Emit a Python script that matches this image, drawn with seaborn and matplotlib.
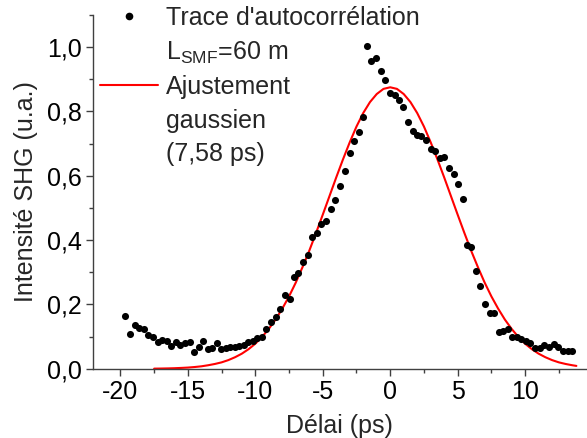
import matplotlib
matplotlib.use("Agg")
import matplotlib.pyplot as plt
import seaborn as sns
import pandas as pd
from matplotlib.ticker import MultipleLocator, FuncFormatter
from matplotlib.lines import Line2D

# autocorrelation trace (delay in ps, normalised SHG intensity)
delay = [-19.64, -19.29, -18.94, -18.62, -18.27, -17.93, -17.58, -17.24, -16.89, -16.57,
         -16.25, -15.90, -15.56, -15.21, -14.87, -14.52, -14.20, -13.88, -13.53, -13.19,
         -12.87, -12.52, -12.20, -11.88, -11.53, -11.21, -10.87, -10.52, -10.20, -9.85,
         -9.51, -9.19, -8.84, -8.50, -8.15, -7.81, -7.46, -7.11, -6.81, -6.47,
         -6.13, -5.80, -5.45, -5.10, -4.74, -4.42, -4.07, -3.72, -3.36, -3.01,
         -2.70, -2.35, -2.05, -1.75, -1.39, -1.04, -0.70, -0.35, 0.00, 0.36,
         0.65, 0.98, 1.33, 1.68, 2.00, 2.29, 2.64, 2.99, 3.33, 3.68,
         4.02, 4.37, 4.71, 5.06, 5.38, 5.67, 6.02, 6.34, 6.69, 7.04,
         7.36, 7.73, 8.04, 8.39, 8.71, 9.06, 9.41, 9.73, 10.07, 10.39,
         10.74, 11.08, 11.43, 11.78, 12.12, 12.47, 12.81, 13.16, 13.50]
intensity = [0.164, 0.108, 0.137, 0.126, 0.125, 0.105, 0.098, 0.083, 0.090, 0.087,
             0.071, 0.084, 0.073, 0.081, 0.084, 0.052, 0.069, 0.085, 0.061, 0.066,
             0.079, 0.060, 0.064, 0.067, 0.069, 0.071, 0.074, 0.084, 0.087, 0.095,
             0.098, 0.123, 0.147, 0.162, 0.185, 0.230, 0.216, 0.285, 0.298, 0.331,
             0.355, 0.411, 0.421, 0.449, 0.458, 0.497, 0.526, 0.569, 0.615, 0.672,
             0.707, 0.736, 0.784, 1.003, 0.956, 0.967, 0.925, 0.899, 0.857, 0.850,
             0.835, 0.814, 0.766, 0.740, 0.728, 0.723, 0.711, 0.684, 0.678, 0.655,
             0.658, 0.625, 0.606, 0.575, 0.528, 0.385, 0.379, 0.305, 0.256, 0.201,
             0.173, 0.173, 0.115, 0.118, 0.123, 0.100, 0.098, 0.092, 0.087, 0.081,
             0.064, 0.064, 0.073, 0.069, 0.077, 0.069, 0.054, 0.056, 0.056]

# gaussian fit curve
fit_delay = [-17.5, -17.0, -16.5, -16.0, -15.5, -15.0, -14.5, -14.0, -13.5, -13.0,
             -12.5, -12.0, -11.5, -11.0, -10.5, -10.0, -9.5, -9.0, -8.5, -8.0,
             -7.5, -7.0, -6.5, -6.0, -5.5, -5.0, -4.5, -4.0, -3.5, -3.0,
             -2.5, -2.0, -1.5, -1.0, -0.5, 0.0, 0.5, 1.0, 1.5, 2.0,
             2.5, 3.0, 3.5, 4.0, 4.5, 5.0, 5.5, 6.0, 6.5, 7.0,
             7.5, 8.0, 8.5, 9.0, 9.5, 10.0, 10.5, 11.0, 11.5, 12.0,
             12.5, 13.0, 13.5, 13.8]
fit_intensity = [0.0005, 0.0008, 0.0012, 0.0018, 0.0027, 0.0038, 0.0055, 0.0077, 0.011, 0.015,
                 0.020, 0.027, 0.036, 0.047, 0.061, 0.078, 0.099, 0.124, 0.153, 0.187,
                 0.225, 0.268, 0.316, 0.367, 0.422, 0.479, 0.537, 0.595, 0.651, 0.704,
                 0.753, 0.795, 0.829, 0.854, 0.870, 0.875, 0.870, 0.854, 0.829, 0.795,
                 0.753, 0.704, 0.651, 0.595, 0.537, 0.479, 0.422, 0.367, 0.316, 0.268,
                 0.225, 0.187, 0.153, 0.124, 0.099, 0.078, 0.061, 0.047, 0.036, 0.027,
                 0.020, 0.015, 0.011, 0.009]

df = pd.DataFrame({"delay": delay, "intensity": intensity})
fit = pd.DataFrame({"delay": fit_delay, "intensity": fit_intensity})

sns.set_style("ticks")
plt.rcParams["font.family"] = ["Liberation Sans", "DejaVu Sans"]
plt.rcParams["mathtext.default"] = "regular"
fs = 18
axcol = "#404040"

fig = plt.figure(figsize=(5.87, 4.38), dpi=100)
ax = fig.add_axes([0.158, 0.158, 0.840, 0.808])

sns.lineplot(data=fit, x="delay", y="intensity", ax=ax, color="red", linewidth=1.5)
sns.scatterplot(data=df, x="delay", y="intensity", ax=ax, color="black", s=26,
                linewidth=0, zorder=3)

ax.set_xlim(-22.05, 14.5)
ax.set_ylim(0, 1.1)
ax.xaxis.set_major_locator(MultipleLocator(5))
ax.xaxis.set_minor_locator(MultipleLocator(2.5))
ax.yaxis.set_major_locator(MultipleLocator(0.2))
ax.yaxis.set_minor_locator(MultipleLocator(0.1))
ax.yaxis.set_major_formatter(FuncFormatter(lambda v, p: f"{v:.1f}".replace(".", ",")))
ax.xaxis.set_major_formatter(FuncFormatter(lambda v, p: f"{v:g}"))

for s in ["top", "right"]:
    ax.spines[s].set_visible(False)
for s in ["left", "bottom"]:
    ax.spines[s].set_color(axcol)
    ax.spines[s].set_linewidth(1.0)
ax.tick_params(which="major", direction="out", length=5, width=1.0, color=axcol,
               labelsize=fs, labelcolor="black", pad=3)
ax.tick_params(which="minor", direction="out", length=3, width=1.0, color=axcol)

ax.set_xlabel("Délai (ps)", fontsize=fs, labelpad=7)
ax.set_ylabel("Intensité SHG (u.a.)", fontsize=fs, labelpad=6)

blank = Line2D([], [], linestyle="none", marker="none")
handles = [
    Line2D([], [], linestyle="none", marker="o", color="black", markersize=5.5, markeredgewidth=0),
    blank,
    Line2D([], [], color="red", linewidth=1.5),
    blank,
    blank,
]
labels = ["Trace d'autocorrélation", "L$_{SMF}$=60 m", "Ajustement", "gaussien", "(7,58 ps)"]
ax.legend(handles, labels, loc="upper left", bbox_to_anchor=(0.015, 1.025), frameon=False,
          fontsize=fs, handlelength=2.3, handletextpad=0.32, labelspacing=0.38,
          borderpad=0, borderaxespad=0)

fig.savefig("out.png", dpi=100)
plt.close()
